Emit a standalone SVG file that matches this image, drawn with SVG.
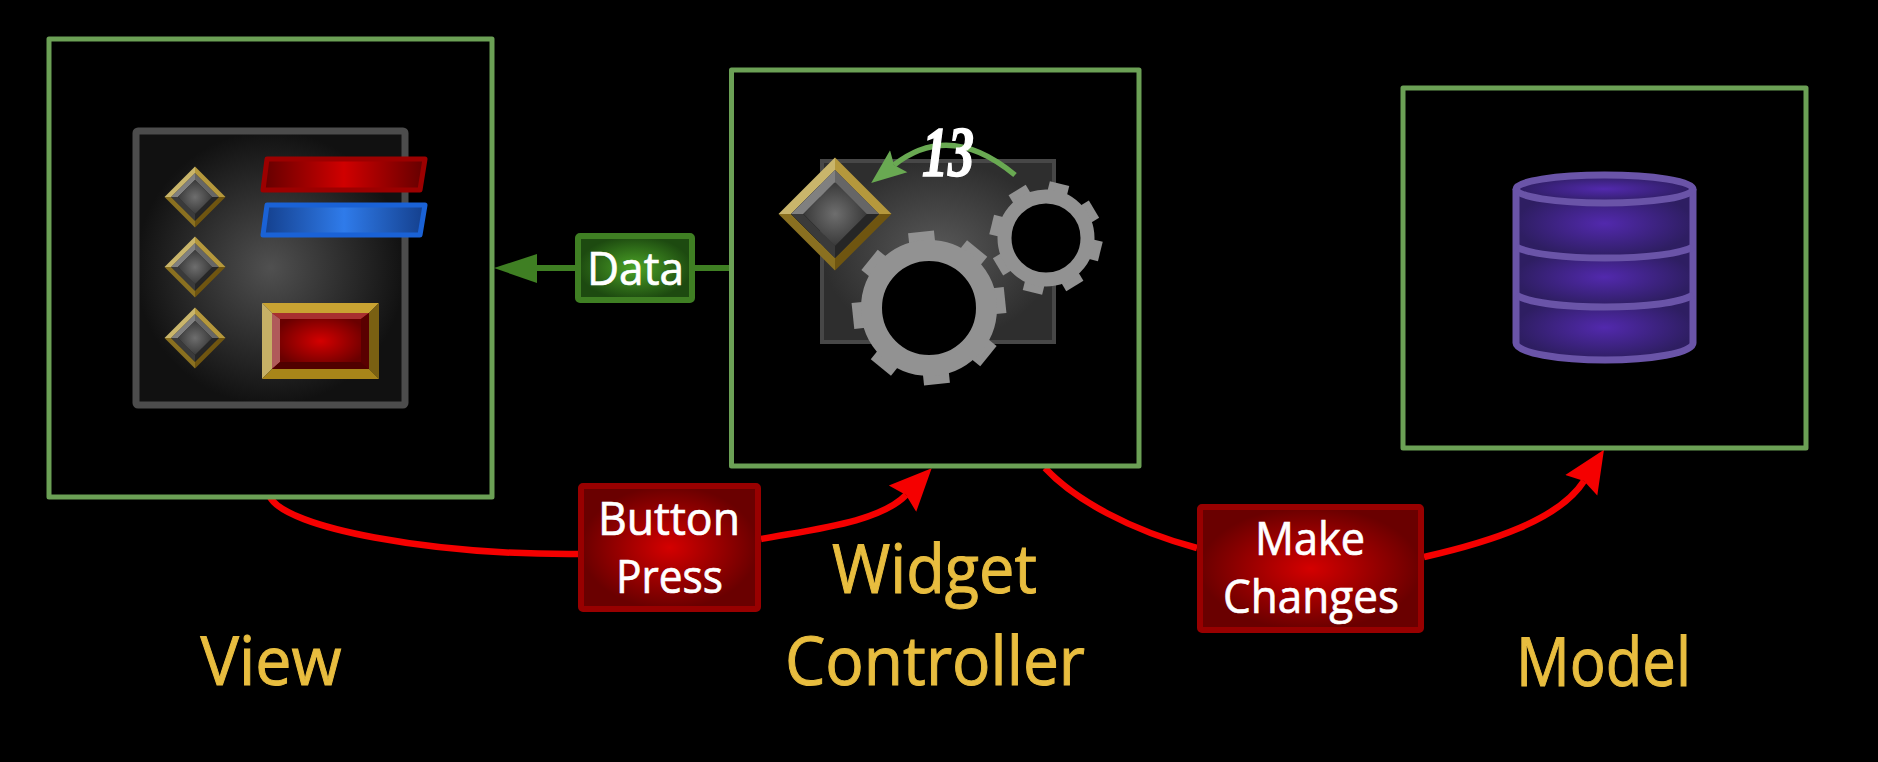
<svg xmlns="http://www.w3.org/2000/svg" xmlns:xlink="http://www.w3.org/1999/xlink" width="1878" height="762" viewBox="0 0 1878 762">
<style>
  .frame { fill: none; stroke: #6ba055; stroke-width: 5; stroke-linejoin: round; }
  .title { font-family: "Open Sans", "Liberation Sans", sans-serif; font-size: 67px; fill: #e8bd3f; stroke: #e8bd3f; stroke-width: 1; text-anchor: middle; }
  .tag { font-family: "Open Sans", "Liberation Sans", sans-serif; font-size: 46px; fill: #ffffff; stroke: #ffffff; stroke-width: 0.7; text-anchor: middle; }
  .red-line { fill: none; stroke: #f50000; stroke-width: 6.5; }
  .green-line { fill: none; stroke: #3f7f23; stroke-width: 6; }
  .gear { fill: #929292; }
  .cyl { fill: none; stroke: #6a54a8; stroke-width: 7; stroke-linejoin: round; }
</style>
<defs>
  <radialGradient id="screenFill"><stop offset="0" stop-color="#505050"/><stop offset="1" stop-color="#111111"/></radialGradient>
  <radialGradient id="panelFill"><stop offset="0" stop-color="#585858"/><stop offset="1" stop-color="#2e2e2e"/></radialGradient>
  <radialGradient id="redFill"><stop offset="0" stop-color="#d40000"/><stop offset="1" stop-color="#6a0000"/></radialGradient>
  <radialGradient id="greenFill"><stop offset="0" stop-color="#4ba326"/><stop offset="1" stop-color="#1d4a10"/></radialGradient>
  <radialGradient id="purpleFill"><stop offset="0" stop-color="#5229ad"/><stop offset="1" stop-color="#2e1e62"/></radialGradient>
  <radialGradient id="knobFill"><stop offset="0" stop-color="#6e6e6e"/><stop offset="1" stop-color="#3a3a3a"/></radialGradient>
  <linearGradient id="redBar"><stop offset="0" stop-color="#640000"/><stop offset="0.5" stop-color="#d00000"/><stop offset="1" stop-color="#640000"/></linearGradient>
  <linearGradient id="blueBar"><stop offset="0" stop-color="#143f8c"/><stop offset="0.5" stop-color="#2f7bea"/><stop offset="1" stop-color="#143f8c"/></linearGradient>

  <!-- Bevelled diamond knob in unit coordinates -->
  <g id="knob">
    <polygon points="0,-1 -1,0 -0.78,0 0,-0.78" fill="#c9b56b"/>
    <polygon points="0,-1 1,0 0.78,0 0,-0.78" fill="#b5983c"/>
    <polygon points="-1,0 0,1 0,0.78 -0.78,0" fill="#8a7020"/>
    <polygon points="1,0 0,1 0,0.78 0.78,0" fill="#6f5510"/>
    <polygon points="0,-0.78 -0.78,0 -0.56,0 0,-0.56" fill="#808080"/>
    <polygon points="0,-0.78 0.78,0 0.56,0 0,-0.56" fill="#666666"/>
    <polygon points="-0.78,0 0,0.78 0,0.56 -0.56,0" fill="#3a3a3a"/>
    <polygon points="0.78,0 0,0.78 0,0.56 0.56,0" fill="#262626"/>
    <polygon points="0,-0.56 0.56,0 0,0.56 -0.56,0" fill="url(#knobFill)"/>
  </g>

  <marker id="redHead" markerUnits="userSpaceOnUse" markerWidth="50" markerHeight="48" viewBox="0 -24 50 48" refX="5" refY="0" orient="auto">
    <path d="M0,-19 L42,0 L0,19 L5,0 Z" fill="#f50000"/>
  </marker>
  <marker id="greenHead" markerUnits="userSpaceOnUse" markerWidth="40" markerHeight="34" viewBox="0 -17 40 34" refX="6" refY="0" orient="auto">
    <path d="M0,-14 L35,0 L0,14 L6,0 Z" fill="#69a952"/>
  </marker>
</defs>

<rect width="1878" height="762" fill="#000000"/>

<g id="connectors">
  <path class="red-line" d="M270,497 C286,528 430,555 578,554"/>
  <path class="red-line" marker-end="url(#redHead)" d="M761,539 C815,529 880,522 906,495"/>
  <path class="red-line" d="M1045,468 C1075,500 1130,530 1197,548"/>
  <path class="red-line" marker-end="url(#redHead)" d="M1424,557 C1490,542 1559,520 1584,481"/>
  <path class="green-line" d="M731,268 H695"/>
  <path class="green-line" d="M575,268 H530"/>
  <polygon points="494,268 537,254 537,283" fill="#3f7f23"/>
</g>

<g id="view">
  <rect class="frame" x="49" y="39" width="443" height="458"/>
  <rect x="136" y="131" width="269" height="274" rx="2" fill="url(#screenFill)" stroke="#4c4c4c" stroke-width="7" stroke-linejoin="round"/>
  <use href="#knob" xlink:href="#knob" transform="translate(195 197) scale(30.5)"/>
  <use href="#knob" xlink:href="#knob" transform="translate(195 267) scale(30.5)"/>
  <use href="#knob" xlink:href="#knob" transform="translate(195 338) scale(30.5)"/>
  <polygon points="267,159 425,159 420,190 263,190" fill="url(#redBar)" stroke="#9c0000" stroke-width="5" stroke-linejoin="round"/>
  <polygon points="267,205 425,205 420,235 263,235" fill="url(#blueBar)" stroke="#1a62d6" stroke-width="5" stroke-linejoin="round"/>
  <polygon points="262,303 379,303 369,313 272,313" fill="#c9a332"/>
  <polygon points="262,303 272,313 272,369 262,379" fill="#c6b066"/>
  <polygon points="379,303 379,379 369,369 369,313" fill="#7a6012"/>
  <polygon points="262,379 272,369 369,369 379,379" fill="#a88519"/>
  <rect x="272" y="313" width="97" height="56" fill="url(#redFill)"/>
  <polygon points="272,313 369,313 361,319 280,319" fill="#a83030"/>
  <polygon points="272,313 280,319 280,362 272,369" fill="#b05a5a"/>
  <polygon points="369,313 361,319 361,362 369,369" fill="#5a0000"/>
  <polygon points="272,369 280,362 361,362 369,369" fill="#500000"/>
  <text class="title" x="271" y="685" textLength="141" lengthAdjust="spacingAndGlyphs">View</text>
</g>

<g id="controller">
  <rect class="frame" x="731.5" y="70" width="407.5" height="396"/>
  <rect x="822" y="161" width="232" height="181" fill="url(#panelFill)" stroke="#474747" stroke-width="4"/>
  <g id="gear-large" transform="translate(929 308)">
    <g class="gear">
      <rect x="-13" y="-76.5" width="26" height="16" transform="rotate(-6)"/>
      <rect x="-13" y="-76.5" width="26" height="16" transform="rotate(39)"/>
      <rect x="-13" y="-76.5" width="26" height="16" transform="rotate(84)"/>
      <rect x="-13" y="-76.5" width="26" height="16" transform="rotate(129)"/>
      <rect x="-13" y="-76.5" width="26" height="16" transform="rotate(174)"/>
      <rect x="-13" y="-76.5" width="26" height="16" transform="rotate(219)"/>
      <rect x="-13" y="-76.5" width="26" height="16" transform="rotate(264)"/>
      <rect x="-13" y="-76.5" width="26" height="16" transform="rotate(309)"/>
    </g>
    <circle r="57.5" fill="#000000" stroke="#929292" stroke-width="21"/>
  </g>
  <g id="gear-small" transform="translate(1046 238)">
    <g class="gear">
      <rect x="-10" y="-56" width="20" height="12" transform="rotate(14)"/>
      <rect x="-10" y="-56" width="20" height="12" transform="rotate(59)"/>
      <rect x="-10" y="-56" width="20" height="12" transform="rotate(104)"/>
      <rect x="-10" y="-56" width="20" height="12" transform="rotate(149)"/>
      <rect x="-10" y="-56" width="20" height="12" transform="rotate(194)"/>
      <rect x="-10" y="-56" width="20" height="12" transform="rotate(239)"/>
      <rect x="-10" y="-56" width="20" height="12" transform="rotate(284)"/>
      <rect x="-10" y="-56" width="20" height="12" transform="rotate(329)"/>
    </g>
    <circle r="41.5" fill="#000000" stroke="#929292" stroke-width="14"/>
  </g>
  <use href="#knob" xlink:href="#knob" transform="translate(835 214) scale(56.5)"/>
  <path d="M1015,175 Q950,121 894,165" fill="none" stroke="#69a952" stroke-width="5.5" marker-end="url(#greenHead)"/>
  <text x="948" y="176" font-family="'Liberation Serif', serif" font-weight="700" font-style="italic" font-size="72" fill="#ffffff" stroke="#ffffff" stroke-width="1.6" text-anchor="middle" textLength="52" lengthAdjust="spacingAndGlyphs">13</text>
  <text class="title" x="934.5" y="593" textLength="205" lengthAdjust="spacingAndGlyphs">Widget</text>
  <text class="title" x="935" y="685" textLength="300" lengthAdjust="spacingAndGlyphs">Controller</text>
</g>

<g id="model">
  <rect class="frame" x="1403" y="88" width="403" height="360"/>
  <ellipse cx="1604.5" cy="189" rx="88.5" ry="14" fill="url(#purpleFill)"/>
  <path d="M1516,189 C1530,198 1565,203 1605,203 C1645,203 1680,198 1693,189 V247 C1680,254 1645,258 1605,258 C1565,258 1530,254 1516,247 Z" fill="url(#purpleFill)"/>
  <path d="M1516,247 C1530,254 1565,258 1605,258 C1645,258 1680,254 1693,247 V295 C1680,303 1645,307 1605,307 C1565,307 1530,303 1516,295 Z" fill="url(#purpleFill)"/>
  <path d="M1516,295 C1530,303 1565,307 1605,307 C1645,307 1680,303 1693,295 V343 C1693,353 1650,360 1605,360 C1560,360 1516,353 1516,343 Z" fill="url(#purpleFill)"/>
  <path class="cyl" d="M1516,189 V343 C1516,353 1560,360 1605,360 C1650,360 1693,353 1693,343 V189"/>
  <path class="cyl" d="M1516,247 C1530,254 1565,258 1605,258 C1645,258 1680,254 1693,247"/>
  <path class="cyl" d="M1516,295 C1530,303 1565,307 1605,307 C1645,307 1680,303 1693,295"/>
  <ellipse class="cyl" cx="1604.5" cy="189" rx="88.5" ry="14"/>
  <text class="title" x="1603.5" y="686" textLength="175" lengthAdjust="spacingAndGlyphs">Model</text>
</g>

<g id="data-label">
  <rect x="578" y="236" width="114" height="64" rx="2" fill="url(#greenFill)" stroke="#3f7f23" stroke-width="6"/>
  <text class="tag" x="635.5" y="285" textLength="97" lengthAdjust="spacingAndGlyphs">Data</text>
</g>

<g id="button-press-label">
  <rect x="581" y="486" width="177" height="123" rx="2" fill="url(#redFill)" stroke="#980000" stroke-width="6"/>
  <text class="tag" x="669" y="535" textLength="142" lengthAdjust="spacingAndGlyphs">Button</text>
  <text class="tag" x="669.5" y="593" textLength="107" lengthAdjust="spacingAndGlyphs">Press</text>
</g>

<g id="make-changes-label">
  <rect x="1200" y="507" width="221" height="123" rx="2" fill="url(#redFill)" stroke="#980000" stroke-width="6"/>
  <text class="tag" x="1310" y="555" textLength="110" lengthAdjust="spacingAndGlyphs">Make</text>
  <text class="tag" x="1311" y="613" textLength="176" lengthAdjust="spacingAndGlyphs">Changes</text>
</g>
</svg>
